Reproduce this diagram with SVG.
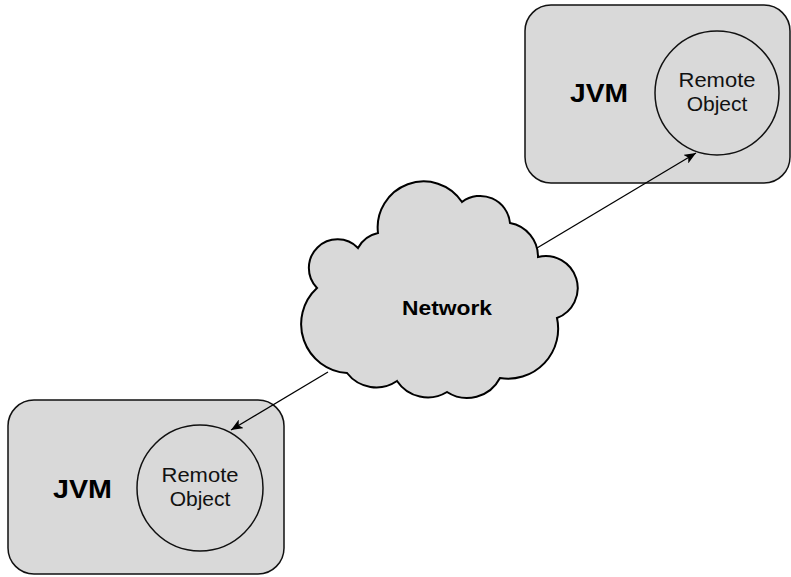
<svg xmlns="http://www.w3.org/2000/svg" width="791" height="577" viewBox="0 0 791 577">
<style>
.box{fill:#d9d9d9;stroke:#111;stroke-width:1.5}
.obj{fill:#d9d9d9;stroke:#111;stroke-width:1.5}
.cloud{fill:#d9d9d9;stroke:#000;stroke-width:2;stroke-linejoin:miter}
.jvm{font-family:"Liberation Sans",Arial,sans-serif;font-weight:bold;font-size:25px;fill:#000}
.ro{font-family:"Liberation Sans",Arial,sans-serif;font-size:21px;fill:#111;text-anchor:middle}
.net{font-family:"Liberation Sans",Arial,sans-serif;font-weight:bold;font-size:20px;fill:#000}
.conn{stroke:#000;stroke-width:1.3;fill:none}
</style>
<defs>
<marker id="arr" viewBox="0 0 12 10" refX="12" refY="5" markerWidth="12" markerHeight="10" markerUnits="userSpaceOnUse" orient="auto">
<path d="M0,0 L12,5 L0,10 L3,5 Z" fill="#000"/>
</marker>
</defs>
<rect width="791" height="577" fill="#fff"/>
<g id="jvm-top">
<rect class="box" x="525" y="5" width="265" height="178" rx="26" ry="26"/>
<text class="jvm" x="570" y="102" textLength="58" lengthAdjust="spacingAndGlyphs">JVM</text>
</g>
<g id="remote-object-top">
<circle class="obj" cx="717" cy="93" r="62"/>
<text class="ro" x="717" y="87" textLength="77" lengthAdjust="spacingAndGlyphs">Remote</text>
<text class="ro" x="717" y="111">Object</text>
</g>
<g id="jvm-bottom">
<rect class="box" x="8" y="400" width="276" height="174" rx="26" ry="26"/>
<text class="jvm" x="53" y="498" textLength="59" lengthAdjust="spacingAndGlyphs">JVM</text>
</g>
<g id="remote-object-bottom">
<circle class="obj" cx="200" cy="488" r="63"/>
<text class="ro" x="200" y="482" textLength="77" lengthAdjust="spacingAndGlyphs">Remote</text>
<text class="ro" x="200" y="506">Object</text>
</g>
<g id="network">
<path class="cloud" d="M317,288 A28,28 0 0 1 358,248 A30,30 0 0 1 378,233 A46,46 0 0 1 462,202 A30,30 0 0 1 510,223 A34,34 0 0 1 538,257 A32,32 0 0 1 557,318 A50,50 0 0 1 500,378 A37,37 0 0 1 447,392 A37,37 0 0 1 397,381 A37,37 0 0 1 347,373 A49,49 0 0 1 317,288 Z"/>
<text class="net" x="402" y="315" textLength="90" lengthAdjust="spacingAndGlyphs">Network</text>
</g>
<g id="connectors">
<line class="conn" x1="537" y1="248" x2="696" y2="153" marker-end="url(#arr)"/>
<line class="conn" x1="328" y1="372" x2="231" y2="430" marker-end="url(#arr)"/>
</g>
</svg>
